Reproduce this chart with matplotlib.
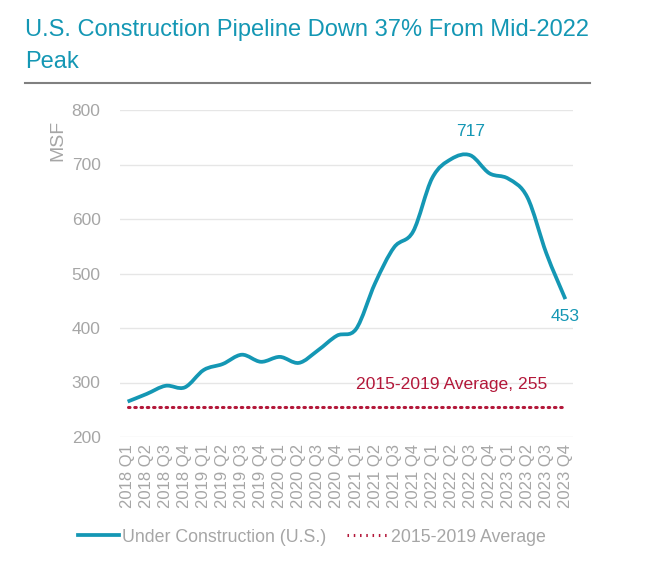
import numpy as np
import matplotlib
matplotlib.use("Agg")
import matplotlib.pyplot as plt
from matplotlib.path import Path
from matplotlib.patches import PathPatch
from matplotlib.lines import Line2D

plt.rcParams['font.family'] = ['Liberation Sans', 'DejaVu Sans']

quarters = [f"{y} Q{q}" for y in range(2018, 2024) for q in range(1, 5)]
under_construction = [265, 279, 294, 291, 323, 334, 351, 338, 347, 336, 359, 386,
                      398, 482, 548, 577, 675, 710, 717, 684, 674, 640, 537, 453]
average_2015_2019 = 255

TEAL = "#1497b4"
RED = "#b3183a"
GREY = "#a6a6a6"
DOTS = (0, (0.5, 1.55))

fig = plt.figure(figsize=(6.5, 5.64), dpi=100)
ax = fig.add_axes([120/650, 1-437/564, (573-120)/650, (437-110)/564])

x = np.arange(len(quarters), dtype=float)
y = np.array(under_construction, dtype=float)

# Smoothed (Catmull-Rom as cubic Bezier) line through data points
verts = [(x[0], y[0])]
codes = [Path.MOVETO]
n = len(x)
for i in range(n - 1):
    p0 = (x[i-1], y[i-1]) if i > 0 else (x[i], y[i])
    p1 = (x[i], y[i])
    p2 = (x[i+1], y[i+1])
    p3 = (x[i+2], y[i+2]) if i + 2 < n else (x[i+1], y[i+1])
    t = 1/6
    c1 = (p1[0] + (p2[0]-p0[0])*t, p1[1] + (p2[1]-p0[1])*t)
    c2 = (p2[0] - (p3[0]-p1[0])*t, p2[1] - (p3[1]-p1[1])*t)
    verts += [c1, c2, p2]
    codes += [Path.CURVE4]*3
ax.add_patch(PathPatch(Path(verts, codes), fill=False, edgecolor=TEAL, lw=2.7,
                       capstyle='butt', zorder=3))

ax.plot(x, [average_2015_2019]*n, color=RED, lw=2.2, linestyle=DOTS,
        dash_capstyle='round', zorder=2)

ax.set_xlim(-0.4, n - 1 + 0.4)
ax.set_ylim(200, 800)
ax.set_yticks(range(200, 801, 100))
ax.yaxis.grid(True, color="#e6e6e6", lw=1)
ax.set_axisbelow(True)
for s in ax.spines.values():
    s.set_visible(False)
ax.tick_params(axis='both', length=0, colors=GREY)
ax.tick_params(axis='y', labelsize=12.5, pad=14)
ax.set_xticks(x)
ax.set_xticklabels(quarters, rotation=90, fontsize=12, color=GREY)
ax.tick_params(axis='x', pad=5)

ax.annotate(f"{max(under_construction)}", (x[int(np.argmax(y))], max(under_construction)),
            xytext=(0, 12), textcoords='offset points', ha='center', va='bottom',
            color=TEAL, fontsize=12.5)
ax.annotate(f"{under_construction[-1]}", (x[-1], under_construction[-1]),
            xytext=(0, -7), textcoords='offset points', ha='center', va='top',
            color=TEAL, fontsize=12.5)
ax.annotate(f"2015-2019 Average, {average_2015_2019}", (x[17], average_2015_2019),
            xytext=(0, 11), textcoords='offset points', ha='center', va='bottom',
            color=RED, fontsize=12.6)

fig.text(58/650, 1-140/564, "MSF", rotation=90, ha='center', va='center',
         color=GREY, fontsize=14)

fig.text(25/650, 1-30/564, "U.S. Construction Pipeline Down 37% From Mid-2022",
         color=TEAL, fontsize=17, ha='left', va='center')
fig.text(25/650, 1-62/564, "Peak", color=TEAL, fontsize=17, ha='left', va='center')
fig.add_artist(Line2D([25/650, 590/650], [1-83/564, 1-83/564], color="#808080", lw=1.5))

handles = [Line2D([], [], color=TEAL, lw=2.7),
           Line2D([], [], color=RED, lw=2.2, linestyle=DOTS)]
fig.legend(handles, ["Under Construction (U.S.)", "2015-2019 Average"],
           loc='center', bbox_to_anchor=(312/650, 1-537/564), ncol=2, frameon=False,
           fontsize=12.75, labelcolor=GREY, handlelength=2.3, handletextpad=0.15,
           columnspacing=1.2)

fig.savefig("out.png", dpi=100, facecolor='white')
